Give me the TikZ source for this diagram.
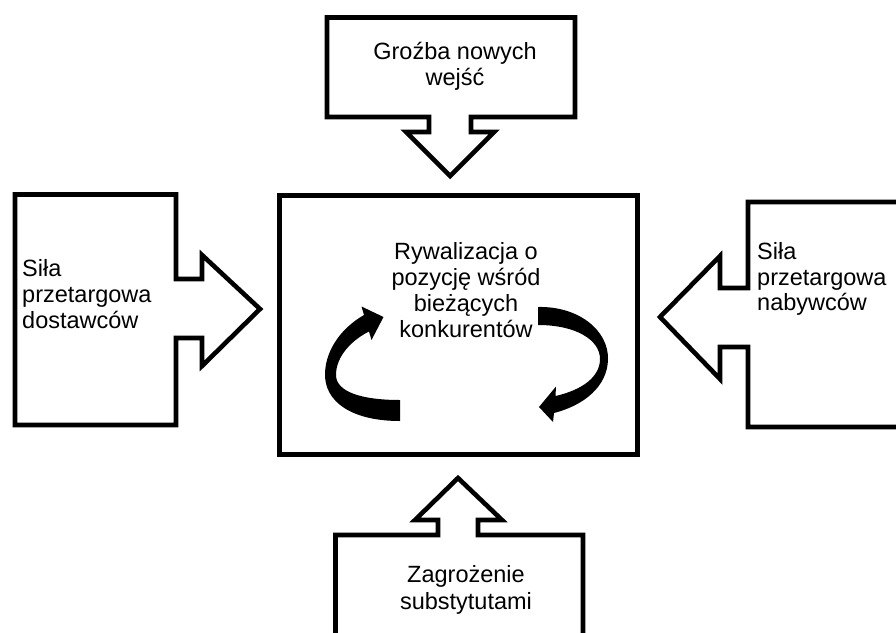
\documentclass[tikz,border=0pt]{standalone}
\usepackage{fontspec}
\setmainfont{Liberation Sans}
\tikzset{
  outline/.style={draw=black, line width=4.6pt, fill=white, miter limit=10},
  lbl/.style={font=\fontsize{23.5}{25.8}\selectfont, inner sep=0pt},
  swirl/.style={fill=black}
}
\begin{document}
\begin{tikzpicture}[x=1pt,y=-1pt]
\useasboundingbox (0,0) rectangle (896,632);
\clip (0,0) rectangle (896,632);
\fill[white] (0,0) rectangle (896,632);
% central box
\draw[outline] (279.5,195.5) rectangle (637.5,454.5);
% top callout
\draw[outline] (327,17.5) -- (575,17.5) -- (575,117) -- (471,117) -- (471,132) -- (494,132)
  -- (450,176) -- (406,132) -- (429,132) -- (429,117) -- (327,117) -- cycle;
% left callout
\draw[outline] (15,194.5) -- (176,194.5) -- (176,279) -- (202,279) -- (202,255) -- (260,309)
  -- (202,366) -- (202,338) -- (176,338) -- (176,425) -- (15,425) -- cycle;
% right callout
\draw[outline] (748,202) -- (910,202) -- (910,427) -- (748,427) -- (748,347) -- (720,347)
  -- (720,379) -- (660,317) -- (720,256) -- (720,288) -- (748,288) -- cycle;
% bottom callout
\draw[outline] (335.5,535) -- (438,535) -- (438,520) -- (415,520) -- (458,478) -- (502,520)
  -- (478,520) -- (478,535) -- (583,535) -- (583,645) -- (335.5,645) -- cycle;
% curved arrows
\fill[swirl] (400,421) .. controls (352,421) and (324,402) .. (325,373)
  .. controls (326,348) and (343,327) .. (364,315) -- (361.5,306.5) -- (383.5,317)
  -- (371.5,340) -- (369,331.5) .. controls (352,340) and (336,356) .. (336,375)
  .. controls (336,392) and (362,400) .. (400,400) -- cycle;
\fill[swirl] (538,307) .. controls (578,306) and (609,330) .. (608,360)
  .. controls (607,386) and (585,405) .. (554,413) -- (553,422) -- (539,407)
  -- (556,386.5) -- (555.5,396) .. controls (582,390) and (600,377) .. (600,359)
  .. controls (600,340) and (576,325) .. (538,325) -- cycle;
% texts
\node[lbl, align=center] (threat) at (455,66) {Groźba nowych\\wejść};
\node[lbl, align=center] (rivalry) at (466,290) {Rywalizacja o\\pozycję wśród\\bieżących\\konkurentów};
\node[lbl, align=left, anchor=west] (suppliers) at (22,294) {Siła\\przetargowa\\dostawców};
\node[lbl, align=left, anchor=west] (buyers) at (757,279) {Siła\\przetargowa\\nabywców};
\node[lbl, align=center, font=\fontsize{23.5}{27}\selectfont] (subst) at (466,590) {Zagrożenie\\substytutami};
\end{tikzpicture}
\end{document}
